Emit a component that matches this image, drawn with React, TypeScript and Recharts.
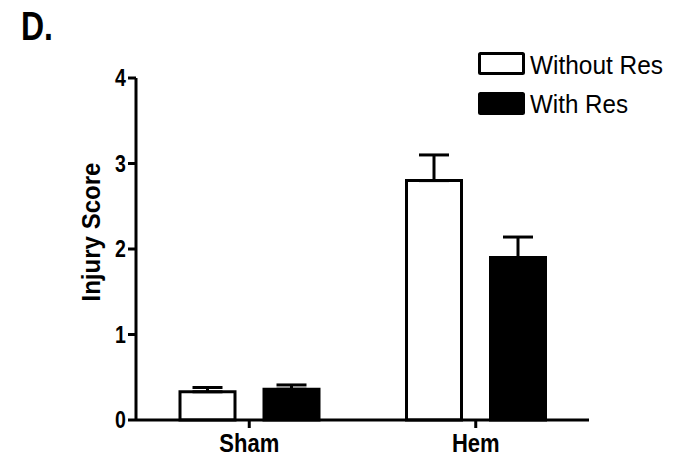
import { BarChart, Bar, XAxis, YAxis, ErrorBar } from "recharts";

const groups = ["Sham", "Hem"];
const seriesNames = ["Without Res", "With Res"];
const withoutRes = [0.33, 2.8];
const withoutResErr = [0.05, 0.3];
const withRes = [0.36, 1.9];
const withResErr = [0.05, 0.24];
const yTicks = [0, 1, 2, 3, 4];

const data = groups.map((name, i) => ({
  name,
  without: withoutRes[i],
  withoutErr: [0, withoutResErr[i]],
  with: withRes[i],
  withErr: [0, withResErr[i]],
}));

const font = "'Liberation Sans', Arial, sans-serif";

// the original uses a condensed face, so squeeze the glyphs a bit
const XTick = ({ x, y, payload }: any) => (
  <g transform={`translate(${x},${y})`}>
    <text
      transform="scale(0.88,1)"
      textAnchor="middle"
      dy="0.71em"
      fontSize={25}
      fontWeight="bold"
      fontFamily={font}
      fill="#000"
    >
      {payload.value}
    </text>
  </g>
);

const YTick = ({ x, y, payload }: any) => (
  <g transform={`translate(${x},${y})`}>
    <text
      transform="scale(0.85,1)"
      textAnchor="end"
      dy="0.36em"
      fontSize={23}
      fontWeight="bold"
      fontFamily={font}
      fill="#000"
    >
      {payload.value}
    </text>
  </g>
);

export default function App() {
  return (
    <div
      style={{
        position: "absolute",
        left: 0,
        top: 0,
        width: 673,
        height: 462,
        background: "#fff",
      }}
    >
      <BarChart
        width={673}
        height={462}
        data={data}
        margin={{ top: 78, right: 84, bottom: 12, left: 96 }}
        barSize={55}
        barGap={29}
      >
        <XAxis
          dataKey="name"
          height={30}
          axisLine={{ stroke: "#000", strokeWidth: 3 }}
          tickLine={{ stroke: "#000", strokeWidth: 3 }}
          tickSize={8}
          tickMargin={6}
          tick={<XTick />}
        />
        <YAxis
          width={40}
          domain={[0, 4]}
          ticks={yTicks}
          interval={0}
          axisLine={{ stroke: "#000", strokeWidth: 3 }}
          tickLine={{ stroke: "#000", strokeWidth: 3 }}
          tickSize={8}
          tickMargin={2}
          tick={<YTick />}
        />
        <Bar
          dataKey="without"
          name={seriesNames[0]}
          fill="#fff"
          stroke="#000"
          strokeWidth={3}
          isAnimationActive={false}
        >
          <ErrorBar dataKey="withoutErr" direction="y" width={15} stroke="#000" strokeWidth={3} />
        </Bar>
        <Bar
          dataKey="with"
          name={seriesNames[1]}
          fill="#000"
          stroke="#000"
          strokeWidth={3}
          isAnimationActive={false}
        >
          <ErrorBar dataKey="withErr" direction="y" width={15} stroke="#000" strokeWidth={3} />
        </Bar>
      </BarChart>
      <svg
        width={673}
        height={462}
        style={{ position: "absolute", left: 0, top: 0, pointerEvents: "none" }}
      >
        <text
          x={21}
          y={40}
          fontSize={40}
          fontWeight="bold"
          fontFamily={font}
          fill="#000"
          textLength={32}
          lengthAdjust="spacingAndGlyphs"
        >
          D.
        </text>
        <text
          transform="translate(100,232) rotate(-90)"
          textAnchor="middle"
          fontSize={26}
          fontWeight="bold"
          fontFamily={font}
          fill="#000"
          textLength={139}
          lengthAdjust="spacingAndGlyphs"
        >
          Injury Score
        </text>
        <rect x={479.5} y={53.5} width={44} height={20} fill="#fff" stroke="#000" strokeWidth={3} rx={1} />
        <text
          x={530}
          y={74}
          fontSize={26}
          fontFamily={font}
          fill="#000"
          textLength={133}
          lengthAdjust="spacingAndGlyphs"
        >
          {seriesNames[0]}
        </text>
        <rect x={479.5} y={93.5} width={44} height={20} fill="#000" stroke="#000" strokeWidth={3} rx={1} />
        <text
          x={530}
          y={113}
          fontSize={26}
          fontFamily={font}
          fill="#000"
          textLength={98}
          lengthAdjust="spacingAndGlyphs"
        >
          {seriesNames[1]}
        </text>
      </svg>
    </div>
  );
}
